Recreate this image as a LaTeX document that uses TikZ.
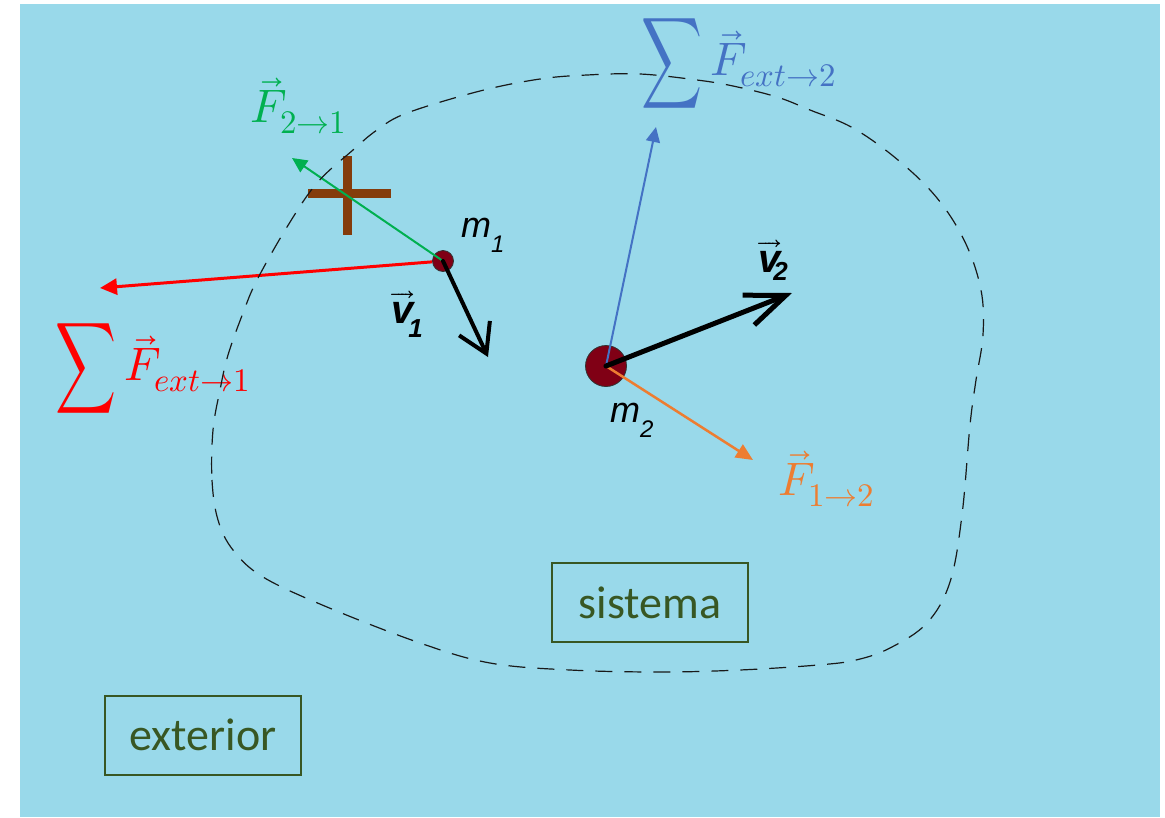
\documentclass[tikz,border=0pt]{standalone}
\usepackage{fontspec}
\usepackage{unicode-math}
\usepackage{graphicx}
\newfontfamily\calibri{Carlito}
\newfontfamily\arial{Liberation Sans}
\usetikzlibrary{arrows.meta}
\definecolor{bg}{RGB}{153,217,234}
\definecolor{fred}{RGB}{255,0,0}
\definecolor{fgreen}{RGB}{0,176,80}
\definecolor{fblue}{RGB}{68,114,196}
\definecolor{forange}{RGB}{237,125,49}
\definecolor{crossbrown}{RGB}{132,60,12}
\definecolor{massred}{RGB}{128,0,21}
\definecolor{boxgreen}{RGB}{56,87,35}
\newcommand{\bigsigma}{\vcenter{\hbox{\scalebox{0.9}[1.36]{$\displaystyle\sum$}}}}
\begin{document}
\begin{tikzpicture}[x=1pt,y=-1pt,
  flabel/.style={inner sep=0pt, font=\fontsize{47}{56}\selectfont},
  mlab/.style={inner sep=0pt, font=\arial\itshape\fontsize{36}{40}\selectfont},
  vlab/.style={inner sep=0pt, font=\arial\bfseries\itshape\fontsize{40}{44}\selectfont},
  tbox/.style={draw=boxgreen, line width=2pt, text=boxgreen, font=\calibri\fontsize{46}{50}\selectfont,
    minimum width=196pt, minimum height=79pt, inner sep=0pt},
  mass/.style={circle, fill=massred, draw=black!80, line width=0.8pt, inner sep=0pt},
  force/.style={-{Triangle[length=15pt,width=14pt]}},
  vel/.style={black, line cap=round, line join=round},
  barrier/.style={crossbrown, line width=9pt},
  contour/.style={black!90, line width=1.2pt, dash pattern=on 17pt off 12pt}
]
\useasboundingbox (0,0) rectangle (1165,817);
\fill[bg] (20,4) rectangle (1160,817);

% brown cross
\draw[barrier] (347,156) -- (347,235);
\draw[barrier] (308,193) -- (391,193);

% masses
\node[mass, minimum size=21pt] (m1) at (443,261) {};
\node[mass, minimum size=41pt] (m2) at (606,366) {};

% arrow end points
\coordinate (tipR) at (100,288);
\coordinate (tipG) at (292,158);
\coordinate (tipB) at (656,127);
\coordinate (tipO) at (753,460);
\coordinate (tipV1) at (488,357);
\coordinate (tipV2) at (792,293);

% forces
\draw[force, fred, line width=3pt, -{Triangle[length=17pt,width=16pt]}] (m1) -- (tipR);
\draw[force, fgreen, line width=2pt] (m1.center) -- (tipG);
\draw[force, fblue, line width=2pt] (m2.center) -- (tipB);
\draw[force, forange, line width=2.5pt, -{Triangle[length=17pt,width=15pt]}] (m2.center) -- (tipO);

% velocities
\draw[vel, line width=4pt, -{Straight Barb[length=28pt,width=34pt]}] (m1.center) -- (tipV1);
\draw[vel, line width=5pt, -{Straight Barb[length=40pt,width=32pt]}] (m2.center) -- (tipV2);

% labels of forces
\node[flabel, text=fred, anchor=base west] (lR) at (55,380) {$\bigsigma\,\vec{F}_{ext\to1}$};
\node[flabel, text=fblue, anchor=base west] (lB) at (641,75) {$\bigsigma\,\vec{F}_{ext\to2}$};
\node[flabel, text=fgreen, anchor=base west] (lG) at (250,122) {$\vec{F}_{2\to1}$};
\node[flabel, text=forange, anchor=base west] (lO) at (778,495) {$\vec{F}_{1\to2}$};

% labels of masses and velocities
\node[mlab, anchor=base west] (lm1) at (461,237) {m\raisebox{-15pt}{\fontsize{24}{24}\selectfont 1}};
\node[mlab, anchor=base west] (lm2) at (610,422) {m\raisebox{-15pt}{\fontsize{24}{24}\selectfont 2}};
\node[vlab, anchor=base west] (lv1) at (391,323) {$\overrightarrow{\hbox{v}}$\kern-5pt\raisebox{-14pt}{\fontsize{26}{26}\selectfont 1}};
\node[vlab, anchor=base west] (lv2) at (758,272) {$\overrightarrow{\hbox{v}}$\kern-7pt\raisebox{-8pt}{\fontsize{26}{26}\selectfont 2}};

% text boxes
\node[tbox] (sis) at (650,602.5) {sistema};
\node[tbox] (ext) at (203,735) {exterior};

% system contour
\draw[contour] plot[smooth cycle, tension=0.6] coordinates {
 (213,430) (212,480) (218,520) (233,550) (263,577) (327,607) (420,643) (490,663)
 (570,670) (660,672) (740,670) (818,665) (856,660) (890,648) (927,623) (950,582)
 (962,515) (970,425) (976,380) (983,335) (981,290) (965,242) (937,198) (898,160)
 (853,128) (810,110) (777,97) (733,86) (697,80) (640,74) (587,75) (540,79)
 (480,91) (407,113) (377,130) (353,150) (317,183) (287,227) (257,280) (243,313)
 (228,355) (220,390)};
\end{tikzpicture}
\end{document}
